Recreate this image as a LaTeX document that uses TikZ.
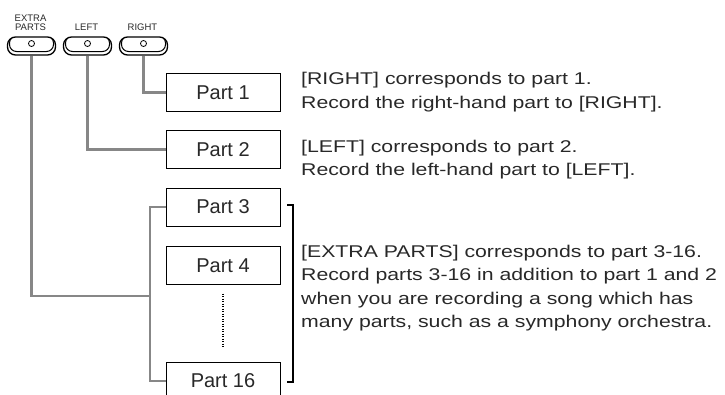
\documentclass[tikz,border=0pt]{standalone}
\usepackage{fontspec}
\setmainfont{Liberation Sans}
\newfontfamily\descfont[FakeStretch=1.25]{Liberation Sans}
\definecolor{connGray}{RGB}{135,135,135}
\definecolor{textGray}{RGB}{40,40,40}
\begin{document}
\begin{tikzpicture}[x=1pt,y=-1pt,
  partbox/.style={draw,line width=1pt,minimum width=114pt,minimum height=38pt,inner sep=0pt,
    font=\fontsize{20}{24}\selectfont,text=textGray},
  conn/.style={draw=connGray,line width=2.3pt},
  desc/.style={anchor=base west,align=left,inner sep=0pt,text=textGray,
    font=\descfont\fontsize{17}{23.5}\selectfont},
  blabel/.style={font=\fontsize{9.5}{8.5}\selectfont,align=center,inner sep=0pt,anchor=base,text=textGray},
  btn/.style={draw,line width=1.3pt,rounded corners=8pt,minimum width=48pt,minimum height=18pt,inner sep=0pt,
    path picture={
      \draw[line width=1pt,rounded corners=7pt]
        ([xshift=2pt,yshift=1pt]path picture bounding box.north west) rectangle
        ([xshift=-2pt,yshift=3.5pt]path picture bounding box.south east);
      \draw[line width=0.8pt] ([yshift=2.5pt]path picture bounding box.center) circle (3pt);
    }},
  dotline/.style={draw=black,line width=1.6pt,dash pattern=on 1.4pt off 1.1pt},
  bracket/.style={draw=black,line width=2pt}
]
\path[use as bounding box,clip] (0,0) rectangle (725,394);

% button labels
\node[blabel] (lE) at (30.5,30) {EXTRA\\PARTS};
\node[blabel] (lL) at (86.5,30) {LEFT};
\node[blabel] (lR) at (142.5,30) {RIGHT};

% buttons
\node[btn] (bE) at (31.5,46) {};
\node[btn] (bL) at (87.5,46) {};
\node[btn] (bR) at (143.5,46) {};

% part boxes
\node[partbox] (p1) at (223,92.5) {Part 1};
\node[partbox] (p2) at (223,149.5) {Part 2};
\node[partbox] (p3) at (223,207) {Part 3};
\node[partbox] (p4) at (223,265.5) {Part 4};
\node[partbox] (p16) at (223,381) {Part 16};

% connectors
\coordinate (jE) at (150,296);
\draw[conn] (bR.south) |- (p1.west);
\draw[conn] (bL.south) |- (p2.west);
\draw[conn] (bE.south) |- (jE);
\draw[conn] (p3.west) -| (jE) |- (p16.west);

% dotted line
\draw[dotline] ([yshift=-8.5pt]p4.south) -- ([yshift=14pt]p16.north);

% bracket
\coordinate (brt) at (287,205);
\coordinate (brb) at (287,382);
\draw[bracket] (brt) -- ++(6,0) |- (brb);

% descriptions (base anchor = baseline of the last line)
\node[desc] (t1) at (301,108) {[RIGHT] corresponds to part 1.\\Record the right-hand part to [RIGHT].};
\node[desc] (t2) at (301,175.5) {[LEFT] corresponds to part 2.\\Record the left-hand part to [LEFT].};
\node[desc] (t3) at (301,327.5) {[EXTRA PARTS] corresponds to part 3-16.\\Record parts 3-16 in addition to part 1 and 2\\when you are recording a song which has\\many parts, such as a symphony orchestra.};
\end{tikzpicture}
\end{document}
